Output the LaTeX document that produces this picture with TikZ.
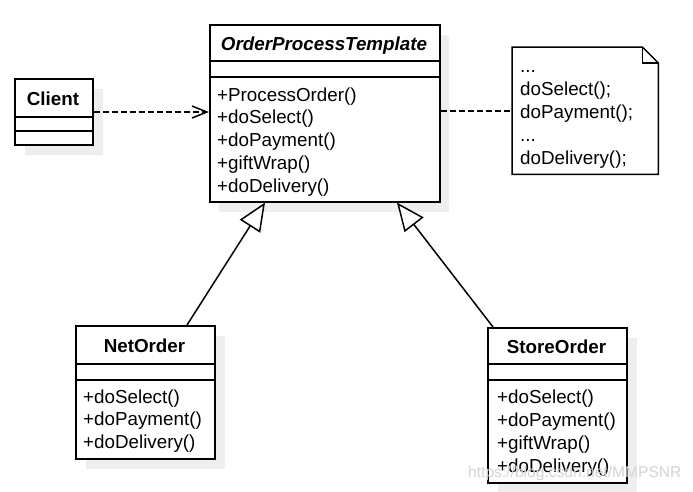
\documentclass[tikz,border=0pt]{standalone}
\usepackage{fontspec}
\setmainfont{Liberation Sans}
\usetikzlibrary{arrows.meta}
\definecolor{shadowgray}{HTML}{EEEEEE}
\definecolor{markgray}{HTML}{D4D4D4}
\tikzset{
  box/.style={draw, line width=1.6pt, fill=white, inner sep=0pt, anchor=north west},
  shadowbox/.style={fill=shadowgray, draw=none, inner sep=0pt, anchor=north west},
  divider/.style={line width=1.6pt},
  txt/.style={inner sep=0pt, anchor=base west, font=\fontsize{18.8}{22.8}\selectfont},
  hdr/.style={inner sep=0pt, anchor=base, font=\bfseries\fontsize{18.8}{22.8}\selectfont},
  dashline/.style={line width=1.5pt, dash pattern=on 6pt off 3pt},
  inherit/.style={line width=1.5pt, -{Triangle[fill=white, length=28pt, width=24pt, line width=1.5pt]}},
  dep/.style={dashline, -{Straight Barb[length=15pt, width=12pt, line width=1.5pt]}}
}
\begin{document}
\begin{tikzpicture}[x=1pt, y=-1pt]
\useasboundingbox (0,0) rectangle (693,491);

% shadows
\node[shadowbox, minimum width=78pt, minimum height=66pt] (clientsh) at (25,89) {};
\node[shadowbox, minimum width=230pt, minimum height=177pt] (optsh) at (219,35) {};
\node[shadowbox, minimum width=139pt, minimum height=133pt] (netsh) at (86,336) {};
\node[shadowbox, minimum width=139pt, minimum height=155pt] (storesh) at (498,338) {};

% Client
\node[box, minimum width=78pt, minimum height=66pt] (client) at (14,78) {};
\draw[divider] (client.west |- 0,117) -- (client.east |- 0,117);
\draw[divider] (client.west |- 0,131) -- (client.east |- 0,131);
\node[hdr] (clientname) at (53,105) {Client};

% OrderProcessTemplate
\node[box, minimum width=230pt, minimum height=177pt] (opt) at (209,24) {};
\draw[divider] (opt.west |- 0,61) -- (opt.east |- 0,61);
\draw[divider] (opt.west |- 0,77) -- (opt.east |- 0,77);
\node[hdr, font=\bfseries\itshape\fontsize{18.8}{22.8}\selectfont] (optname) at (324,50) {OrderProcessTemplate};
\foreach \t [count=\i from 0] in {{+ProcessOrder()}, {+doSelect()}, {+doPayment()}, {+giftWrap()}, {+doDelivery()}}
  \node[txt] (optm\i) at (217,101+22.8*\i) {\t};

% Note
\node[draw=none, fill=white, inner sep=0pt, anchor=north west, minimum width=146pt, minimum height=127pt] (note) at (512,47) {};
\draw[line width=1.5pt, line join=miter] (note.north west) -- ([xshift=-16pt]note.north east) -- ([yshift=-16pt]note.north east) -- (note.south east) -- (note.south west) -- cycle;
\draw[line width=1.5pt] ([xshift=-16pt]note.north east) |- ([yshift=-16pt]note.north east);
\node[txt] (notel0) at (520,72) {...};
\node[txt] (notel1) at (520,95) {doSelect();};
\node[txt] (notel2) at (520,118) {doPayment();};
\node[txt] (notel3) at (520,141) {...};
\node[txt] (notel4) at (520,164) {doDelivery();};

% NetOrder
\node[box, minimum width=139pt, minimum height=133pt] (net) at (75,325) {};
\draw[divider] (net.west |- 0,364) -- (net.east |- 0,364);
\draw[divider] (net.west |- 0,380) -- (net.east |- 0,380);
\node[hdr] (netname) at (144.5,352) {NetOrder};
\foreach \t [count=\i from 0] in {{+doSelect()}, {+doPayment()}, {+doDelivery()}}
  \node[txt] (netm\i) at (83,403+22.8*\i) {\t};

% StoreOrder
\node[box, minimum width=139pt, minimum height=155pt] (store) at (487,327) {};
\draw[divider] (store.west |- 0,364) -- (store.east |- 0,364);
\draw[divider] (store.west |- 0,380) -- (store.east |- 0,380);
\node[hdr] (storename) at (556.5,353) {StoreOrder};
\foreach \t [count=\i from 0] in {{+doSelect()}, {+doPayment()}, {+giftWrap()}, {+doDelivery()}}
  \node[txt] (storem\i) at (497,403+23.3*\i) {\t};

% connectors
\draw[dep] (client.east |- 0,112) -- (opt.west |- 0,112);
\draw[dashline] (opt.east |- 0,111) -- (note.west |- 0,111);
\draw[inherit] (net.north -| 187,0) -- (opt.south -| 265,0);
\draw[inherit] (store.north -| 493,0) -- (opt.south -| 397,0);

% watermark
\node[inner sep=0pt, anchor=base west, text=markgray, font=\fontsize{15.6}{18}\selectfont] (mark) at (468,477) {https://blog.csdn.net/MMPSNR};
\end{tikzpicture}
\end{document}
